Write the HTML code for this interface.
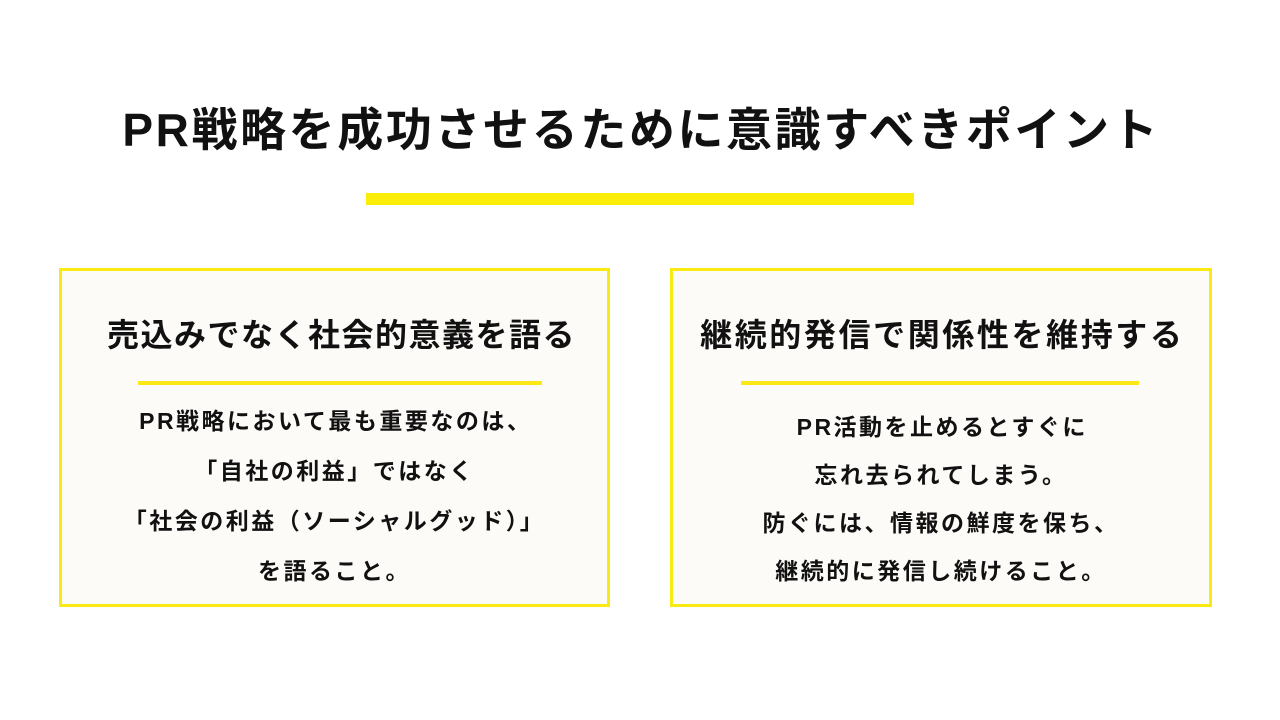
<!DOCTYPE html>
<html><head><meta charset="utf-8"><style>
body{margin:0;width:1280px;height:720px;background:#fff;position:relative;overflow:hidden;font-family:"Liberation Sans","Noto Sans CJK JP",sans-serif;font-weight:bold;color:#111}
.t{position:absolute;left:0;width:1280px;text-align:center;top:100px;font-size:46px;line-height:60px;letter-spacing:2.6px;text-indent:2.6px}
.bar{position:absolute;left:366px;top:193px;width:548px;height:12px;background:#fcee0a}
.box{position:absolute;top:268px;height:333px;border:3px solid #f9ea10;background:#fdfbf8}
.h{position:absolute;left:0;right:0;text-align:center;top:44px;font-size:32px;line-height:40px}
.u{position:absolute;height:4px;background:#fbe816;top:110px}
.b{position:absolute;left:0;right:0;text-align:center;font-size:23px;line-height:50px;letter-spacing:2.5px;text-indent:2.5px}
</style></head><body>
<div class="t">PR戦略を成功させるために意識すべきポイント</div>
<div class="bar"></div>
<div class="box" style="left:59px;width:545px">
 <div class="h" style="letter-spacing:1.5px;text-indent:14px">売込みでなく社会的意義を語る</div>
 <div class="u" style="left:76px;width:404px"></div>
 <div class="b" style="top:125px">PR戦略において最も重要なのは、<br>「自社の利益」ではなく<br>「社会の利益（ソーシャルグッド）」<br>を語ること。</div>
</div>
<div class="box" style="left:670px;width:536px">
 <div class="h" style="letter-spacing:2.6px;text-indent:2.6px">継続的発信で関係性を維持する</div>
 <div class="u" style="left:68px;width:398px"></div>
 <div class="b" style="top:132px;line-height:48px">PR活動を止めるとすぐに<br>忘れ去られてしまう。<br>防ぐには、情報の鮮度を保ち、<br>継続的に発信し続けること。</div>
</div>
</body></html>
